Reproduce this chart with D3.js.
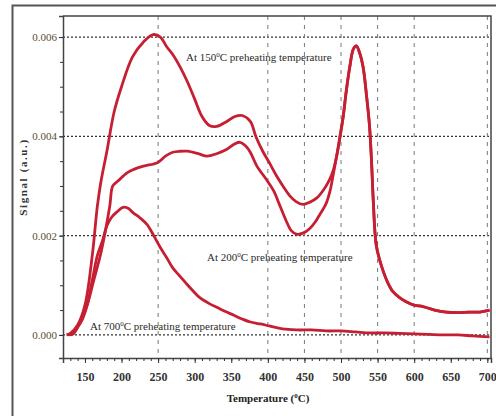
<!DOCTYPE html>
<meta charset="utf-8">
<script src="https://d3js.org/d3.v7.min.js"></script>
<style>
  body { margin: 0; background: #fff; }
  text { font-family: "Liberation Serif", "DejaVu Serif", serif; }
</style>
<div id="my_dataviz"></div>
<script>

// x tick labels and gridline positions
var xTicks = [150, 200, 250, 300, 350, 400, 450, 500, 550, 600, 650, 700];
var xGrid = [250, 400, 450, 500, 550, 600, 700];
var yTicks = [0, 0.002, 0.004, 0.006];

// At 150 C preheating
var temp150 = [125, 130, 140, 150, 160, 167, 172, 180, 190, 200, 215, 230, 243, 253, 262, 270, 280, 290, 300, 310,
  320, 330, 344, 355, 365, 376, 384, 393, 402, 412, 421, 430, 439, 448, 457, 467, 476, 484, 489, 494,
  498, 503, 507, 512, 517, 521, 525, 530, 535, 539, 542, 544, 548, 553, 558, 564, 571, 580, 589, 600,
  612, 628, 644, 660, 675, 689, 703];
var signal150 = [0.0000, 0.00003, 0.0002, 0.0006, 0.0016, 0.0026, 0.0031, 0.0037, 0.0045, 0.0050, 0.0056, 0.0059, 0.00605, 0.0060, 0.0058, 0.00565, 0.0054, 0.0051, 0.00475, 0.0044,
  0.00422, 0.0042, 0.0043, 0.0044, 0.00442, 0.0043, 0.00398, 0.0037, 0.00347, 0.0032, 0.00299, 0.0028, 0.00268, 0.00263, 0.00267, 0.00276, 0.00292, 0.00312, 0.0033, 0.0036,
  0.00394, 0.0044, 0.00489, 0.0054, 0.00576, 0.00582, 0.0057, 0.00541, 0.0048, 0.0042, 0.0034, 0.00273, 0.00182, 0.0015, 0.00127, 0.00105, 0.00087, 0.00075, 0.00067, 0.0006,
  0.00057, 0.0005, 0.00046, 0.00045, 0.00046, 0.00046, 0.0005];

// At 200 C preheating (joins the 150 C curve after ~490 C)
var temp200 = [128, 134, 145, 153, 162, 171, 178, 184, 188, 195, 208, 216, 230, 249, 260, 270, 280, 290, 305, 317,
  330, 344, 355, 362, 370, 376, 385, 398, 408, 416, 425, 432, 439, 448, 457, 465, 470, 475, 480, 485,
  489, 494, 498, 503, 507, 512, 517, 521, 525, 530, 535, 539, 542, 544, 548, 553, 558, 564, 571, 580,
  589, 600, 612, 628, 644, 660, 675, 689, 703];
var signal200 = [0.0, 0.00002, 0.0003, 0.0006, 0.0011, 0.0016, 0.0021, 0.0026, 0.0030, 0.0031, 0.00327, 0.00333, 0.0034, 0.00347, 0.0036, 0.00368, 0.0037, 0.0037, 0.00365, 0.0036,
  0.00365, 0.00374, 0.00385, 0.00388, 0.0038, 0.00368, 0.0034, 0.00313, 0.0029, 0.00262, 0.0023, 0.0021, 0.00203, 0.00205, 0.00214, 0.00228, 0.0024, 0.00252, 0.00266, 0.0029,
  0.0032, 0.0036, 0.00394, 0.0044, 0.00489, 0.0054, 0.00576, 0.00582, 0.0057, 0.00541, 0.0048, 0.0042, 0.0034, 0.00273, 0.00182, 0.0015, 0.00127, 0.00105, 0.00087, 0.00075,
  0.00067, 0.0006, 0.00057, 0.0005, 0.00046, 0.00045, 0.00046, 0.00046, 0.0005];

// At 700 C preheating
var temp700 = [125, 132, 139, 146, 153, 160, 167, 174, 180, 187, 194, 202, 209, 216, 225, 235, 244, 253, 262, 270,
  280, 290, 300, 307, 320, 331, 342, 353, 365, 376, 390, 402, 420, 440, 460, 480, 500, 520, 540, 560,
  580, 600, 620, 640, 660, 680, 703];
var signal700 = [0.0, 0.00003, 0.00014, 0.0003, 0.0006, 0.0011, 0.0016, 0.0019, 0.0022, 0.00238, 0.00248, 0.00257, 0.00255, 0.00246, 0.00236, 0.00222, 0.002, 0.00176, 0.00155, 0.00135,
  0.00118, 0.00101, 0.00085, 0.00075, 0.00063, 0.00055, 0.00047, 0.0004, 0.00032, 0.00026, 0.00022, 0.00018, 0.00012, 0.0001, 0.0001, 0.00008, 0.00008, 0.00006, 0.00004, 0.00004,
  0.00003, 0.00002, 0.00001, 0.0, 0.0, -0.00002, -0.00004];

var W = 496, H = 416;
var margin = {top: 16, right: 5, bottom: 58, left: 63},
    width = W - margin.left - margin.right,
    height = H - margin.top - margin.bottom;

var root = d3.select("#my_dataviz")
  .append("svg")
    .attr("width", W)
    .attr("height", H);

// outer frame
root.append("path")
  .attr("d", "M12.5," + H + "V5.5H" + W)
  .attr("fill", "none")
  .attr("stroke", "#555")
  .attr("stroke-width", 2);

var svg = root.append("g")
  .attr("transform", "translate(" + margin.left + "," + margin.top + ")");

var x = d3.scaleLinear().domain([120, 705]).range([0, width]);
var y = d3.scaleLinear().domain([-0.000465, 0.006424]).range([height, 0]);

// grid
svg.selectAll(".hgrid").data(yTicks).enter().append("line")
  .attr("x1", 0).attr("x2", width)
  .attr("y1", function(d) { return y(d); }).attr("y2", function(d) { return y(d); })
  .attr("stroke", "#333").attr("stroke-width", 1.2).attr("stroke-dasharray", "2,2");
svg.selectAll(".vgrid").data(xGrid).enter().append("line")
  .attr("x1", function(d) { return x(d); }).attr("x2", function(d) { return x(d); })
  .attr("y1", 0).attr("y2", height)
  .attr("stroke", "#777").attr("stroke-width", 1).attr("stroke-dasharray", "4,5");

// curves
var line = d3.line()
  .x(function(d) { return x(d[0]); })
  .y(function(d) { return y(d[1]); })
  .curve(d3.curveCatmullRom.alpha(0.5));

[[temp150, signal150], [temp200, signal200], [temp700, signal700]].forEach(function(s) {
  svg.append("path")
    .datum(d3.zip(s[0], s[1]))
    .attr("fill", "none")
    .attr("stroke", "#c61f33")
    .attr("stroke-width", 2.8)
    .attr("stroke-linejoin", "round")
    .attr("d", line);
});

// axes
var xAxis = svg.append("g")
  .attr("transform", "translate(0," + height + ")")
  .call(d3.axisBottom(x).tickValues(xTicks).tickSize(5).tickPadding(9).tickFormat(d3.format("d")));
svg.append("g")
  .attr("transform", "translate(0," + height + ")")
  .call(d3.axisBottom(x).tickValues(d3.range(130, 705, 10)).tickSize(3).tickFormat(""))
  .select(".domain").remove();

var yAxis = svg.append("g")
  .call(d3.axisLeft(y).tickValues(yTicks).tickSize(4).tickPadding(2).tickFormat(d3.format(".3f")));
svg.append("g")
  .call(d3.axisLeft(y).tickValues(d3.range(0, 13).map(function(i) { return i * 0.0005; })).tickSize(3).tickFormat(""))
  .select(".domain").remove();

svg.selectAll(".domain").attr("stroke", "#444").attr("stroke-width", 1.5);
svg.selectAll(".tick line").attr("stroke", "#333");
xAxis.selectAll("text").attr("font-size", 12).attr("font-weight", "bold").attr("fill", "#333")
  .attr("font-family", "Liberation Serif");
yAxis.selectAll("text").attr("font-size", 11).attr("fill", "#5a4c34")
  .attr("font-family", "Liberation Serif");

// plot border (top + right)
svg.append("path")
  .attr("d", "M0,0H" + width + "V" + height)
  .attr("fill", "none").attr("stroke", "#444").attr("stroke-width", 1.5);

// axis titles
var xt = root.append("text")
  .attr("x", 268).attr("y", 402)
  .attr("text-anchor", "middle")
  .attr("font-size", 11).attr("font-weight", "bold").attr("fill", "#222");
xt.append("tspan").text("Temperature (");
xt.append("tspan").attr("font-size", 7).attr("dy", -4).text("0");
xt.append("tspan").attr("dy", 4).text("C)");

root.append("text")
  .attr("transform", "translate(27,177) rotate(-90)")
  .attr("text-anchor", "middle")
  .attr("font-size", 11).attr("font-weight", "bold").attr("fill", "#333")
  .attr("letter-spacing", 1.6)
  .text("Signal (a.u.)");

// annotations
var notes = [
  {t: "150", x: 186, y: 61},
  {t: "200", x: 207, y: 261},
  {t: "700", x: 90, y: 330}
];
notes.forEach(function(n) {
  var tx = root.append("text")
    .attr("x", n.x).attr("y", n.y)
    .attr("font-size", 11).attr("fill", "#2a2a2a");
  tx.append("tspan").text("At " + n.t);
  tx.append("tspan").attr("font-size", 7).attr("dy", -4).text("0");
  tx.append("tspan").attr("dy", 4).text("C preheating temperature");
});

</script>
